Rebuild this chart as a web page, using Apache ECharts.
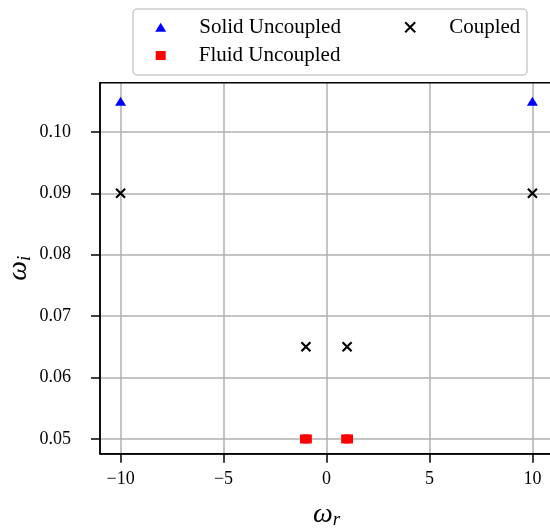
<!DOCTYPE html>
<html>
<head>
<meta charset="utf-8">
<script src="https://cdn.jsdelivr.net/npm/echarts@6/dist/echarts.min.js"></script>
<style>html,body{margin:0;padding:0;background:#fff}#c{width:550px;height:532px}</style>
</head>
<body>
<div id="c"></div>
<script>
// ---- data ----
const solidX = [-10, 10];
const solidY = [0.105, 0.105];
const fluidX = [-1.07, -0.93, 0.93, 1.07];
const fluidY = [0.05, 0.05, 0.05, 0.05];
const coupledX = [-10, 10, -1, 1];
const coupledY = [0.09, 0.09, 0.065, 0.065];
const xTicks = [-10, -5, 0, 5, 10];
const yTicks = [0.05, 0.06, 0.07, 0.08, 0.09, 0.10];
const seriesNames = ['Solid Uncoupled', 'Fluid Uncoupled', 'Coupled'];

const zip = (xs, ys) => xs.map((x, i) => [x, ys[i]]);
const FONT = '"Liberation Serif", "DejaVu Serif", serif';
const crossPath = 'path://M0,0L10,10M10,0L0,10';
const legendText = {fontFamily: FONT, fontSize: 21, color: '#000', lineHeight: 24, padding: [0, 0, 0, 28]};

const chart = echarts.init(document.getElementById('c'), null, {renderer: 'canvas'});
chart.setOption({
  animation: false,
  backgroundColor: '#fff',
  grid: {left: 100, top: 82.7, right: -3, bottom: 78.3, outerBoundsMode: 'none', containLabel: false, show: true, borderColor: '#000', borderWidth: 1.5, backgroundColor: 'transparent', z: 3},
  graphic: [{
    type: 'rect', shape: {x: 133, y: 9, width: 394, height: 66, r: 4},
    style: {fill: 'rgba(255,255,255,0.8)', stroke: '#cccccc', lineWidth: 1.5}, z: 0
  }],
  legend: [
    {data: [seriesNames[0]], left: 150.2, top: 10.2, itemWidth: 11, itemHeight: 9, textStyle: legendText},
    {data: [seriesNames[1]], left: 150.7, top: 38.5, itemWidth: 10, itemHeight: 9, textStyle: legendText},
    {data: [seriesNames[2]], left: 397.7, top: 10.2, itemWidth: 10, itemHeight: 10, textStyle: Object.assign({}, legendText, {padding: [0, 0, 0, 29]})}
  ],
  xAxis: {
    type: 'value', min: -11, max: 11,
    axisLine: {show: true, onZero: false, lineStyle: {color: '#000', width: 1.5}},
    axisTick: {show: true, inside: false, length: 9, customValues: xTicks, lineStyle: {color: '#000', width: 1.5}},
    axisLabel: {customValues: xTicks, margin: 17, fontFamily: FONT, fontSize: 18, color: '#000',
      formatter: v => (v < 0 ? '\u2212' + Math.abs(v) : String(v))},
    splitLine: {show: true, lineStyle: {color: '#b0b0b0', width: 1.5}},
    name: '{w|ω}{s|r}', nameLocation: 'middle', nameGap: 45, nameMoveOverlap: false,
    nameTextStyle: {rich: {w: {fontFamily: FONT, fontStyle: 'italic', fontSize: 28, color: '#000'}, s: {fontFamily: FONT, fontStyle: 'italic', fontSize: 19, color: '#000', verticalAlign: 'bottom', padding: [12, 0, 0, 0]}}}
  },
  yAxis: {
    type: 'value', min: 0.0476, max: 0.108,
    axisLine: {show: true, onZero: false, lineStyle: {color: '#000', width: 1.5}},
    axisTick: {show: true, inside: false, length: 9, customValues: yTicks, lineStyle: {color: '#000', width: 1.5}},
    axisLabel: {customValues: yTicks, margin: 29, fontFamily: FONT, fontSize: 18, color: '#000',
      formatter: v => v.toFixed(2)},
    splitLine: {show: true, lineStyle: {color: '#b0b0b0', width: 1.5}},
    name: '{w|ω}{s|i}', nameLocation: 'middle', nameGap: 66, nameRotate: 90, nameMoveOverlap: false,
    nameTextStyle: {rich: {w: {fontFamily: FONT, fontStyle: 'italic', fontSize: 28, color: '#000'}, s: {fontFamily: FONT, fontStyle: 'italic', fontSize: 19, color: '#000', verticalAlign: 'bottom', padding: [12, 0, 0, 0]}}}
  },
  series: [
    {name: seriesNames[0], type: 'scatter', symbol: 'triangle', symbolSize: [11, 9], data: zip(solidX, solidY), itemStyle: {color: '#0000ff', opacity: 1}, z: 5},
    {name: seriesNames[1], type: 'scatter', symbol: 'rect', symbolSize: 9, data: zip(fluidX, fluidY), itemStyle: {color: '#ff0000', opacity: 1}, z: 5},
    {name: seriesNames[2], type: 'scatter', symbol: crossPath, symbolSize: 9, data: zip(coupledX, coupledY), itemStyle: {color: 'none', borderColor: '#000', borderWidth: 2.2, opacity: 1}, z: 5}
  ]
});
</script>
</body>
</html>
